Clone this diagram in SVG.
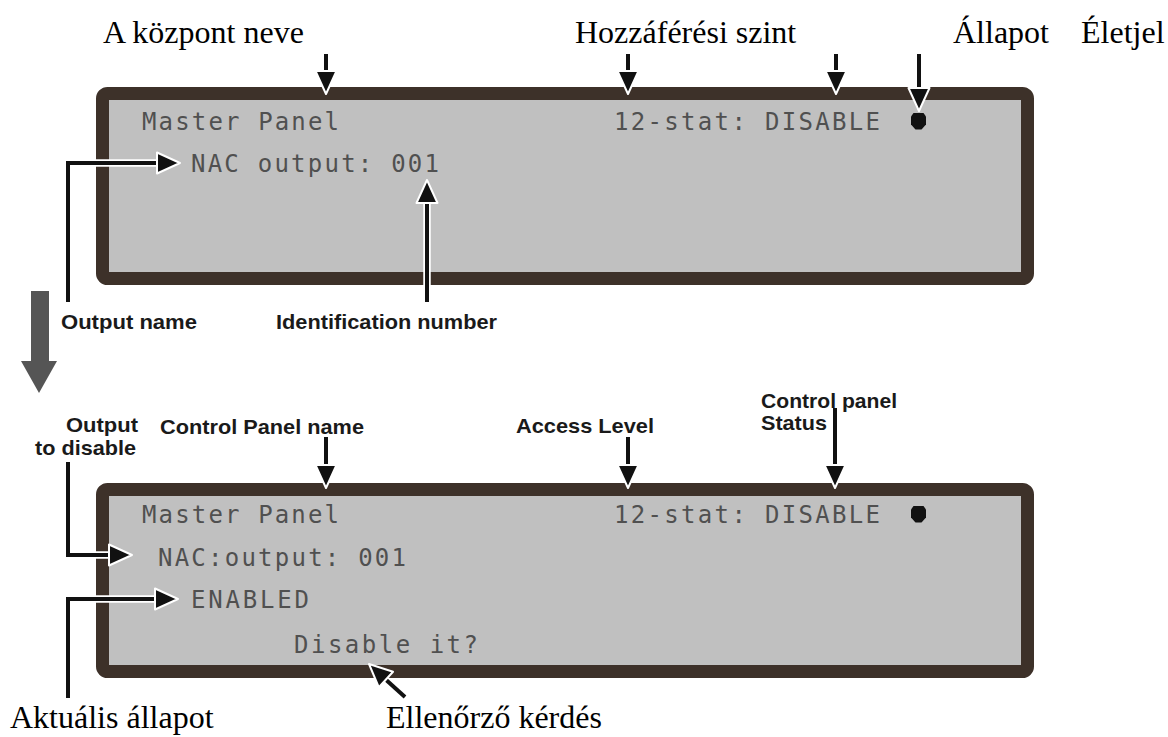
<svg xmlns="http://www.w3.org/2000/svg" xmlns:xlink="http://www.w3.org/1999/xlink" width="1168" height="737" viewBox="0 0 1168 737">
  <style>
    .panel { fill: #c0c0c0; stroke: #3d3129; stroke-width: 13; }
    .lcd { font-family: "DejaVu Sans Mono", "Liberation Mono", monospace; font-size: 24px; fill: #505050; }
    .serif { font-family: "Liberation Serif", "Times New Roman", serif; font-size: 32px; fill: #000; }
    .sans { font-family: "Liberation Sans", Arial, sans-serif; font-weight: bold; font-size: 20.5px; fill: #1a1a1a; }
    .halo { fill: none; stroke: #fff; stroke-width: 7.5; stroke-linejoin: miter; }
    .wire { fill: none; stroke: #111; stroke-width: 4; stroke-linejoin: miter; }
    .head { fill: #111; stroke: #fff; stroke-width: 2; stroke-linejoin: round; }
    .dot { fill: #111; }
  </style>
  <defs>
    <!-- arrowhead pointing right, tip at the origin -->
    <path id="head" class="head" d="M0,0 L-23,-10.5 L-23,10.5 Z"/>
  </defs>

  <rect width="1168" height="737" fill="#fff"/>

  <!-- headings above the upper display -->
  <g id="labels-top">
    <text class="serif" x="103" y="43">A központ neve</text>
    <text class="serif" x="575" y="43">Hozzáférési szint</text>
    <text class="serif" x="953" y="43">Állapot</text>
    <text class="serif" x="1081" y="43">Életjel</text>
  </g>

  <!-- upper display -->
  <g id="display-1">
    <rect class="panel" x="102.5" y="93.5" width="925" height="185" rx="5"/>
    <text class="lcd" x="142" y="130" textLength="197" lengthAdjust="spacing">Master Panel</text>
    <text class="lcd" x="614" y="130" textLength="266" lengthAdjust="spacing">12-stat: DISABLE</text>
    <path class="dot" d="M913.5,113 h10 l2.5,3.5 v8 l-4.5,5 h-6 l-4.5,-5 v-8 z"/>
    <text class="lcd" x="191" y="172" textLength="248" lengthAdjust="spacing">NAC output: 001</text>
  </g>

  <g id="labels-mid">
    <text class="sans" x="61" y="329" textLength="136" lengthAdjust="spacingAndGlyphs">Output name</text>
    <text class="sans" x="276" y="329" textLength="221" lengthAdjust="spacingAndGlyphs">Identification number</text>
    <text class="sans" x="66" y="432" textLength="72" lengthAdjust="spacingAndGlyphs">Output</text>
    <text class="sans" x="35" y="455" textLength="101" lengthAdjust="spacingAndGlyphs">to disable</text>
    <text class="sans" x="160" y="434" textLength="204" lengthAdjust="spacingAndGlyphs">Control Panel name</text>
    <text class="sans" x="516" y="433" textLength="138" lengthAdjust="spacingAndGlyphs">Access Level</text>
    <text class="sans" x="761" y="408" textLength="136" lengthAdjust="spacingAndGlyphs">Control panel</text>
    <text class="sans" x="761" y="430" textLength="66" lengthAdjust="spacingAndGlyphs">Status</text>
  </g>

  <!-- step arrow between the two screens -->
  <g id="step-arrow">
    <polygon points="31,291 49,291 49,361 57,361 39,393 21,361 31,361" fill="#555"/>
  </g>

  <!-- lower display -->
  <g id="display-2">
    <rect class="panel" x="102.5" y="489.5" width="925" height="182" rx="5"/>
    <text class="lcd" x="142" y="523" textLength="197" lengthAdjust="spacing">Master Panel</text>
    <text class="lcd" x="614" y="523" textLength="266" lengthAdjust="spacing">12-stat: DISABLE</text>
    <path class="dot" d="M913.5,506 h10 l2.5,3.5 v8 l-4.5,5 h-6 l-4.5,-5 v-8 z"/>
    <text class="lcd" x="158" y="566" textLength="248" lengthAdjust="spacing">NAC:output: 001</text>
    <text class="lcd" x="191" y="608" textLength="118" lengthAdjust="spacing">ENABLED</text>
    <text class="lcd" x="294" y="653" textLength="184" lengthAdjust="spacing">Disable it?</text>
  </g>

  <g id="labels-bottom">
    <text class="serif" x="10" y="728">Aktuális állapot</text>
    <text class="serif" x="386" y="728">Ellenőrző kérdés</text>
  </g>

  <!-- pointers -->
  <g id="connectors">
    <!-- halos where lines cross the frames -->
    <path class="halo" d="M68,302 V163 H160"/>
    <path class="halo" d="M427,302 V200"/>
    <path class="halo" d="M919,54 V90"/>
    <path class="halo" d="M68,462 V555 H112"/>
    <path class="halo" d="M68,698 V599 H158"/>
    <path class="halo" d="M405,697 L384,678"/>

    <path class="wire" d="M326,54 V73"/>
    <path class="wire" d="M628,54 V73"/>
    <path class="wire" d="M836,54 V73"/>
    <path class="wire" d="M919,54 V90"/>
    <path class="wire" d="M68,302 V163 H160"/>
    <path class="wire" d="M427,302 V200"/>

    <path class="wire" d="M326,437 V467"/>
    <path class="wire" d="M628,437 V467"/>
    <path class="wire" d="M835,408 V467"/>
    <path class="wire" d="M68,462 V555 H112"/>
    <path class="wire" d="M68,698 V599 H158"/>
    <path class="wire" d="M405,697 L384,678"/>

    <use xlink:href="#head" href="#head" transform="translate(326,94) rotate(90)"/>
    <use xlink:href="#head" href="#head" transform="translate(628,94) rotate(90)"/>
    <use xlink:href="#head" href="#head" transform="translate(836,94) rotate(90)"/>
    <use xlink:href="#head" href="#head" transform="translate(919,111) rotate(90)"/>
    <use xlink:href="#head" href="#head" transform="translate(180,163)"/>
    <use xlink:href="#head" href="#head" transform="translate(427,180) rotate(-90)"/>

    <use xlink:href="#head" href="#head" transform="translate(326,488) rotate(90)"/>
    <use xlink:href="#head" href="#head" transform="translate(628,488) rotate(90)"/>
    <use xlink:href="#head" href="#head" transform="translate(835,488) rotate(90)"/>
    <use xlink:href="#head" href="#head" transform="translate(132,555)"/>
    <use xlink:href="#head" href="#head" transform="translate(178,599)"/>
    <use xlink:href="#head" href="#head" transform="translate(369,664) rotate(-137.5)"/>
  </g>
</svg>
